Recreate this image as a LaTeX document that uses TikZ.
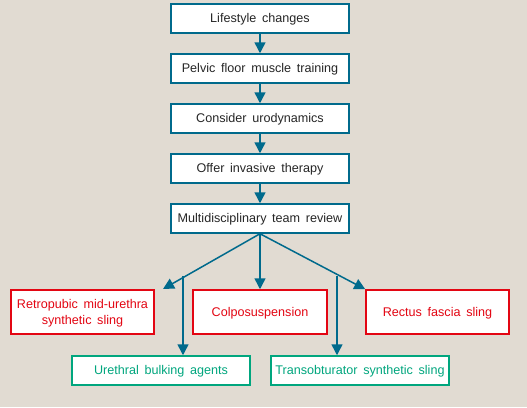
\documentclass[tikz,border=0pt]{standalone}
\usepackage{fontspec}
\setmainfont{Liberation Sans}
\usepackage{tikz}
\usetikzlibrary{arrows.meta,positioning}
\definecolor{bgc}{RGB}{225,219,210}
\definecolor{tealc}{RGB}{0,106,140}
\definecolor{redc}{RGB}{227,6,19}
\definecolor{grnc}{RGB}{0,166,126}
\newcommand{\boxfont}{\fontsize{12.6}{15.5}\selectfont\spaceskip=0.45em\relax}
\tikzset{
  box/.style={rectangle, draw=tealc, line width=1.5pt, fill=white,
              inner sep=0pt, minimum width=178pt, minimum height=29pt,
              text height=8.5pt, text depth=0pt,
              font=\boxfont, text=black!85},
  redbox/.style={box, draw=redc, text=redc, minimum width=143pt,
              minimum height=44pt, align=center},
  grnbox/.style={box, draw=grnc, text=grnc},
  ed/.style={-{Triangle[length=11pt,width=11pt]}, draw=tealc, line width=1.5pt}
}
\begin{document}
\begin{tikzpicture}[x=1pt,y=-1pt]
\fill[bgc] (0,0) rectangle (527,407);
\useasboundingbox (0,0) rectangle (527,407);
\node[box] (ls) at (260,18.5) {Lifestyle changes};
\node[box] (pf) at (260,68.5) {Pelvic floor muscle training};
\node[box] (cu) at (260,118.5) {Consider urodynamics};
\node[box] (oi) at (260,168.5) {Offer invasive therapy};
\node[box] (md) at (260,218.5) {Multidisciplinary team review};
\node[redbox, text height=24pt] (rp) at (82.5,312) {Retropubic mid-urethra\\synthetic sling};
\node[redbox, minimum width=134pt] (cp) at (260,312) {Colposuspension};
\node[redbox] (rf) at (437.5,312) {Rectus fascia sling};
\node[grnbox] (ub) at (161,370.5) {Urethral bulking agents};
\node[grnbox] (ts) at (360,370.5) {Transobturator synthetic sling};
\coordinate (rpt) at (163,289);
\coordinate (bl) at (183,276);
\coordinate (br) at (337,276);
\draw[ed] (ls) -- (pf); \draw[ed] (pf) -- (cu);
\draw[ed] (cu) -- (oi); \draw[ed] (oi) -- (md);
\draw[ed] (md.south) -- (rpt);
\draw[ed] (md.south) -- (rf.north west);
\draw[ed] (md) -- (cp);
\draw[ed] (bl) -- (bl |- ub.north);
\draw[ed] (br) -- (br |- ts.north);
\end{tikzpicture}
\end{document}
